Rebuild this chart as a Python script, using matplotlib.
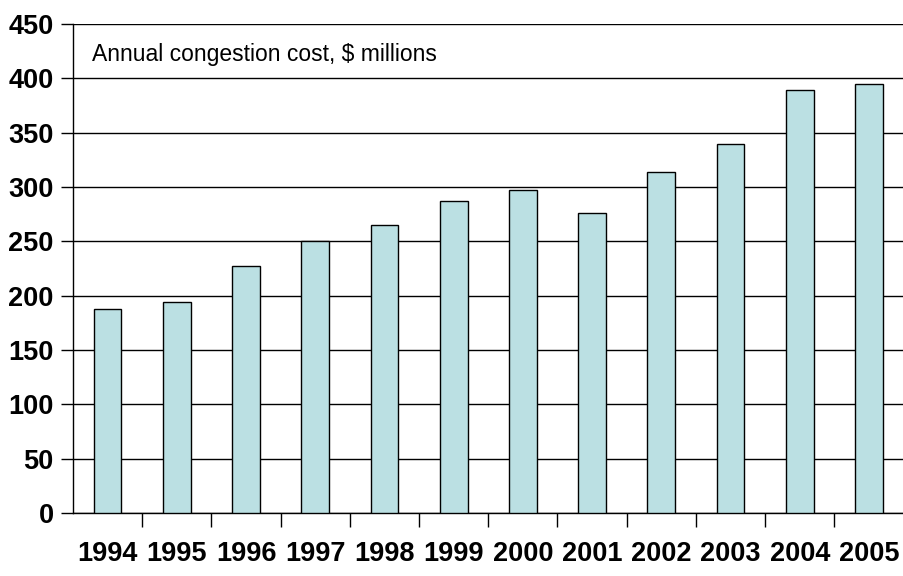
import matplotlib
matplotlib.use("Agg")
import matplotlib.pyplot as plt
import numpy as np

years = ["1994", "1995", "1996", "1997", "1998", "1999", "2000", "2001",
         "2002", "2003", "2004", "2005"]
costs = [188, 194, 227, 250, 265, 287, 297, 276, 314, 340, 389, 395]
yticks = [0, 50, 100, 150, 200, 250, 300, 350, 400, 450]

plt.rcParams['font.family'] = ['Liberation Sans', 'DejaVu Sans']

fig = plt.figure(figsize=(9.04, 5.76), dpi=100)
ax = fig.add_axes([73/904, 63/576, 1 - 73/904 - 0.0005, (513-24)/576])

x = np.arange(len(years))
ax.bar(x, costs, width=0.4, color="#BBE0E3", edgecolor="black", linewidth=1.0, zorder=3)

ax.set_xlim(-0.5, len(years) - 0.5)
ax.set_ylim(0, 450)
ax.set_yticks(yticks)
ax.set_yticklabels([str(v) for v in yticks], fontsize=19.5, fontweight='bold')
ax.yaxis.grid(True, color='black', linewidth=1.0, zorder=0)
ax.set_axisbelow(True)

ax.set_xticks(x)
ax.set_xticklabels(years, fontsize=19.5, fontweight='bold')
ax.tick_params(axis='x', length=0, pad=20)
ax.set_xticks(np.arange(len(years)) + 0.5, minor=True)
ax.tick_params(axis='x', which='minor', length=10, width=1, color='black', direction='out')
ax.tick_params(axis='y', length=9, width=1, direction='out', pad=5)

for s in ['top', 'right']:
    ax.spines[s].set_visible(False)
for s in ['left', 'bottom']:
    ax.spines[s].set_color('black')
    ax.spines[s].set_linewidth(1.0)

fig.text(92/904, 1 - 55/576, "Annual congestion cost, $ millions", fontsize=16.5,
         va='center', ha='left')

fig.savefig("out.png", dpi=100, facecolor='white')
